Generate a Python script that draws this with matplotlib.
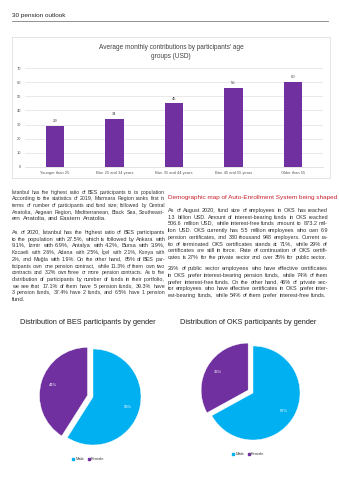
import math
import numpy as np
import matplotlib
matplotlib.use("Agg")
import matplotlib.pyplot as plt
from matplotlib import font_manager
from matplotlib.font_manager import FontProperties
from matplotlib.patches import Rectangle
from matplotlib.lines import Line2D
from matplotlib.transforms import IdentityTransform
from matplotlib.backends.backend_agg import get_hinting_flag

# ========= DATA =========
AGE_GROUPS = ["Younger than 25", "Btw. 25 and 34 years", "Btw. 35 and 44 years",
              "Btw. 45 and 55 years", "Older than 55"]
AVG_CONTRIB = [29, 34, 45, 56, 60]
Y_TICKS = [0, 10, 20, 30, 40, 50, 60, 70]

GENDERS = ["Male", "Female"]
BES_SHARE = [59, 41]
OKS_SHARE = [67, 33]

PURPLE = "#7030A0"
CYAN = "#00B0F0"
RED = "#C8202E"

LEFT_TEXT = [
    ["İstanbul has the highest ratio of BES participants to its population",
     "According to the statistics of 2019, Marmara Region ranks first in",
     "terms of number of participants and fund size; followed by Central",
     "Anatolia, Aegean Region, Mediterranean, Black Sea, Southeast-",
     "ern Anatolia, and Eastern Anatolia."],
    ["As of 2020, İstanbul has the highest ratio of BES participants",
     "to the population with 27.5%, which is followed by Ankara with",
     "9.1%, İzmir with 6.9%, Antalya with 4.2%, Bursa with 3.9%,",
     "Kocaeli with 2.6%, Adana with 2.5%, İçel with 2.1%, Konya with",
     "2%, and Muğla with 1.9%. On the other hand, 85% of BES par-",
     "ticipants own one pension contract, while 11.3% of them own two",
     "contracts and 3.2% own three or more pension contracts. As to the",
     "distribution of participants by number of funds in their portfolio,",
     "we see that 17.1% of them have 5 pension funds, 39.3% have",
     "3 pension funds, 37.4% have 2 funds, and 6.5% have 1 pension",
     "fund."],
]
RIGHT_HEAD = "Demographic map of Auto-Enrollment System being shaped"
RIGHT_TEXT = [
    ["As of August 2020, fund size of employees in OKS has reached",
     "1.3 billion USD. Amount of interest-bearing funds in OKS reached",
     "506.6 million USD, while interest-free funds amount to 873.2 mil-",
     "lion USD. OKS currently has 5.5 million employees who own 6.9",
     "pension certificates, and 330 thousand 948 employers. Current ra-",
     "tio of terminated OKS certificates stands at 71%, while 29% of",
     "certificates are still in force. Rate of continuation of OKS certifi-",
     "cates is 27% for the private sector and over 35% for public sector."],
    ["26% of public sector employees who have effective certificates",
     "in OKS prefer interest-bearing pension funds, while 74% of them",
     "prefer interest-free funds. On the other hand, 46% of private sec-",
     "tor employees who have effective certificates in OKS prefer inter-",
     "est-bearing funds, while 54% of them prefer interest-free funds."],
]

W, H = 339, 480
names = {f.name for f in font_manager.fontManager.ttflist}
BODY_FONT = "Liberation Sans Narrow" if "Liberation Sans Narrow" in names else "Liberation Sans"
plt.rcParams["font.family"] = ["Liberation Sans", "DejaVu Sans"]

fig = plt.figure(figsize=(W / 100, H / 100), dpi=100)
renderer = fig.canvas.get_renderer()


def px_axes(x0, y0, x1, y1):
    """axes from pixel box (top-left origin)"""
    return fig.add_axes([x0 / W, 1 - y1 / H, (x1 - x0) / W, (y1 - y0) / H])


def ptext(x, y, s, **kw):
    return fig.text(x / W, 1 - y / H, s, **kw)


def text_width(s, **kw):
    t = ptext(0, 0, s, **kw)
    w = t.get_window_extent(renderer).width
    t.remove()
    return w


def snapped_baseline(word, fontsize, family, row):
    # agg rounds each word bitmap using its own descent -> compensate so
    # every word of a line lands on the same pixel row
    try:
        fp = FontProperties(family=family, size=fontsize)
        font = renderer._prepare_font(fp)
        font.set_text(word, 0, flags=get_hinting_flag())
        _, hh = font.get_width_height()
        dd = font.get_descent() / 64
        a = hh / 64 - dd
        return row - dd + math.floor(a + dd) - math.floor(a)
    except Exception:
        return row


def justify_line(line, x0, x1, y, justify=True, fontsize=4.4, family=None, **kw):
    words = line.split(" ")
    avail = x1 - x0
    space = text_width("a a", fontsize=fontsize, family=family, **kw) - \
        text_width("aa", fontsize=fontsize, family=family, **kw)
    natural = text_width(line, fontsize=fontsize, family=family, **kw)
    if natural > avail:
        fontsize = fontsize * avail / natural * 0.98
        space = space * avail / natural
    row = round(y)
    texts, widths = [], []
    for wd in words:
        by = snapped_baseline(wd, fontsize, family, row)
        t = fig.text(0, H - by, wd, transform=IdentityTransform(), va="baseline",
                     fontsize=fontsize, family=family, **kw)
        texts.append(t)
        widths.append(t.get_window_extent(renderer).width)
    if justify and len(words) > 1:
        gap = max((avail - sum(widths)) / (len(words) - 1), 0.9 * space)
    else:
        gap = space
    x = x0
    for t, w in zip(texts, widths):
        t.set_x(x)
        x += w + gap


def draw_column(paras, x0, x1, y_starts, step, **kw):
    for para, y0 in zip(paras, y_starts):
        for i, line in enumerate(para):
            last = i == len(para) - 1
            justify_line(line, x0, x1, y0 + i * step, justify=not last, **kw)


# header
ptext(12, 15, "30 pension outlook", fontsize=4.6, color="#222222", va="center")
fig.add_artist(Line2D([12 / W, 328 / W], [1 - 20.5 / H, 1 - 20.5 / H],
                      color="#808080", lw=0.6))

# bar chart frame
fig.add_artist(Rectangle((12 / W, 1 - 178 / H), 318 / W, 141 / H, fill=False,
                         edgecolor="#D9D9D9", lw=0.5))
ptext(171, 52, "Average monthly contributions by participants' age\ngroups (USD)",
      fontsize=4.7, color="#404040", ha="center", va="center", linespacing=1.5)

ax = px_axes(25, 68, 323, 167)
x = np.arange(len(AGE_GROUPS))
bars = ax.bar(x, AVG_CONTRIB, width=0.31, color=PURPLE, zorder=3)
for xi, v in zip(x, AVG_CONTRIB):
    ax.text(xi, v + 2, str(v), ha="center", va="bottom", fontsize=3, color="#404040")
ax.set_xlim(-0.5, len(AGE_GROUPS) - 0.5)
ax.set_ylim(0, 70)
ax.set_yticks(Y_TICKS)
ax.set_xticks(x)
ax.set_xticklabels(AGE_GROUPS)
ax.tick_params(axis="both", length=0, labelsize=2.9, colors="#595959", pad=3)
ax.grid(axis="y", color="#D9D9D9", lw=0.4, zorder=0)
for s in ["top", "right", "left"]:
    ax.spines[s].set_visible(False)
ax.spines["bottom"].set_color("#D9D9D9")
ax.spines["bottom"].set_linewidth(0.5)

# text columns (baseline rows)
draw_column(LEFT_TEXT, 12, 165, [193.5, 234], 6.7, fontsize=4.4,
            color="#333333", family=BODY_FONT)
ptext(168, 199, RIGHT_HEAD, fontsize=4.6, color=RED, va="baseline", family=BODY_FONT)
draw_column(RIGHT_TEXT, 168, 328, [212, 270.3], 6.7, fontsize=4.4,
            color="#333333", family=BODY_FONT)


def gender_pie(cx, cy, r, shares, title, ty, ly):
    side = 2.8 * r
    pax = px_axes(cx - side / 2, cy - side / 2, cx + side / 2, cy + side / 2)
    wedges, _, autot = pax.pie(shares, colors=[CYAN, PURPLE], startangle=90,
                               counterclock=False, explode=[0, 0.12],
                               autopct="%d%%", pctdistance=0.75,
                               wedgeprops=dict(edgecolor="white", linewidth=0.3))
    for t in autot:
        t.set_color("white")
        t.set_fontsize(3)
    pax.set_xlim(-1.4, 1.4)
    pax.set_ylim(-1.4, 1.4)
    pax.set_aspect("equal")
    pax.axis("off")
    ptext(cx - 5, ty, title, fontsize=5.3, color="#222222", ha="center", va="center")
    handles = [Line2D([], [], marker="s", ls="", color=c, markersize=1.8) for c in [CYAN, PURPLE]]
    fig.legend(handles, GENDERS, loc="center", bbox_to_anchor=((cx - 5) / W, 1 - ly / H),
               ncol=2, frameon=False, fontsize=3, handletextpad=0.1,
               columnspacing=0.8, labelcolor="#404040", handlelength=0.8)


gender_pie(93, 397, 48, BES_SHARE, "Distribution of BES participants by gender", 322, 459)
gender_pie(253, 393, 47, OKS_SHARE, "Distribution of OKS participants by gender", 323, 454)

fig.savefig("out.png", dpi=100, facecolor="white")
